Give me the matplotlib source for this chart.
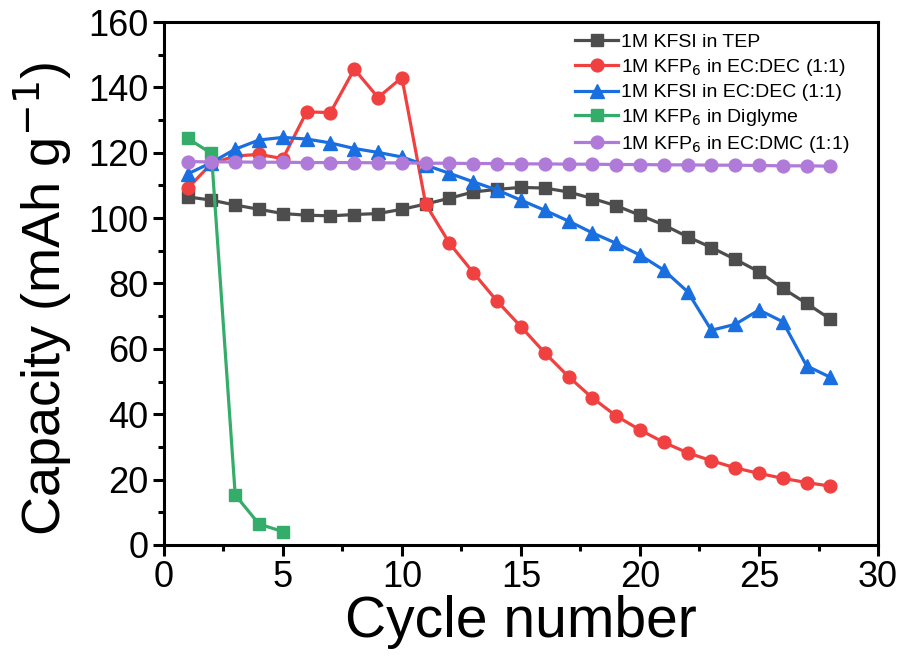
import matplotlib
matplotlib.use("Agg")
import matplotlib.pyplot as plt
from matplotlib.ticker import MultipleLocator

plt.rcParams['font.family'] = ['Liberation Sans', 'DejaVu Sans']

cycles = list(range(1, 29))
tep = [106.5, 105.5, 104.0, 102.7, 101.4, 100.9, 100.7, 101.1, 101.4, 102.7, 104.3, 106.1,
       108.0, 108.8, 109.4, 109.2, 108.0, 106.0, 103.8, 100.9, 97.9, 94.3, 91.0, 87.4,
       83.6, 78.5, 73.9, 69.1]
kpf6_ecdec = [109.1, 116.7, 119.0, 119.5, 118.2, 132.5, 132.3, 145.6, 136.9, 143.0, 104.3, 92.3,
              83.3, 74.6, 66.8, 58.8, 51.5, 45.0, 39.5, 35.2, 31.4, 28.2, 25.8, 23.6,
              21.9, 20.4, 19.1, 18.0]
kfsi_ecdec = [113.5, 117.0, 121.1, 123.9, 124.7, 124.2, 123.0, 121.3, 120.1, 118.7, 116.2, 113.7,
              111.1, 108.6, 105.5, 102.4, 99.1, 95.5, 92.3, 88.7, 84.1, 77.5, 65.7, 67.5,
              71.9, 68.3, 54.8, 51.3]
diglyme_cycles = [1, 2, 3, 4, 5]
kpf6_diglyme = [124.4, 119.8, 15.3, 6.4, 4.1]
kpf6_ecdmc = [117.3, 117.2, 117.2, 117.1, 117.1, 117.0, 117.0, 117.0, 116.9, 116.9, 116.8, 116.8,
              116.7, 116.7, 116.6, 116.6, 116.5, 116.5, 116.4, 116.4, 116.3, 116.3, 116.2, 116.2,
              116.1, 116.0, 116.0, 115.9]

labels = ['1M KFSI in TEP', r'1M KFP$_6$ in EC:DEC (1:1)', '1M KFSI in EC:DEC (1:1)',
          r'1M KFP$_6$ in Diglyme', r'1M KFP$_6$ in EC:DMC (1:1)']

fig = plt.figure(figsize=(9, 6.57), dpi=100)
ax = fig.add_axes([0.182, 0.1705, 0.7936, 0.796])

lw = 2.3
ax.plot(cycles, tep, '-s', color='#4d4d4d', lw=lw, ms=8.4, label=labels[0])
ax.plot(cycles, kpf6_ecdec, '-o', color='#f0403f', lw=lw, ms=9.2, label=labels[1])
ax.plot(cycles, kfsi_ecdec, '-^', color='#1a6fe0', lw=lw, ms=9.5, label=labels[2])
ax.plot(diglyme_cycles, kpf6_diglyme, '-s', color='#35ad6a', lw=lw, ms=8.4, label=labels[3])
ax.plot(cycles, kpf6_ecdmc, '-o', color='#b07ad9', lw=lw, ms=9.2, label=labels[4])

ax.set_xlim(0, 30)
ax.set_ylim(0, 160)
ax.xaxis.set_major_locator(MultipleLocator(5))
ax.xaxis.set_minor_locator(MultipleLocator(2.5))
ax.yaxis.set_major_locator(MultipleLocator(20))
ax.yaxis.set_minor_locator(MultipleLocator(10))
ax.tick_params(axis='both', which='major', labelsize=26, width=2.2, length=8, direction='out', pad=3)
ax.tick_params(axis='both', which='minor', width=2.2, length=4.5, direction='out')
for s in ax.spines.values():
    s.set_linewidth(2.2)

ax.set_xlabel('Cycle number', fontsize=41, labelpad=0)
ax.set_ylabel(r'Capacity (mAh g$^{-1}$)', fontsize=39)
ax.yaxis.set_label_coords(-0.126, 0.47)

leg = ax.legend(loc='upper left', frameon=False, fontsize=14, handlelength=2.2,
                handletextpad=0.15, labelspacing=0.3, borderpad=0, borderaxespad=0,
                bbox_to_anchor=(0.576, 0.978))

fig.savefig('out.png', dpi=100)
